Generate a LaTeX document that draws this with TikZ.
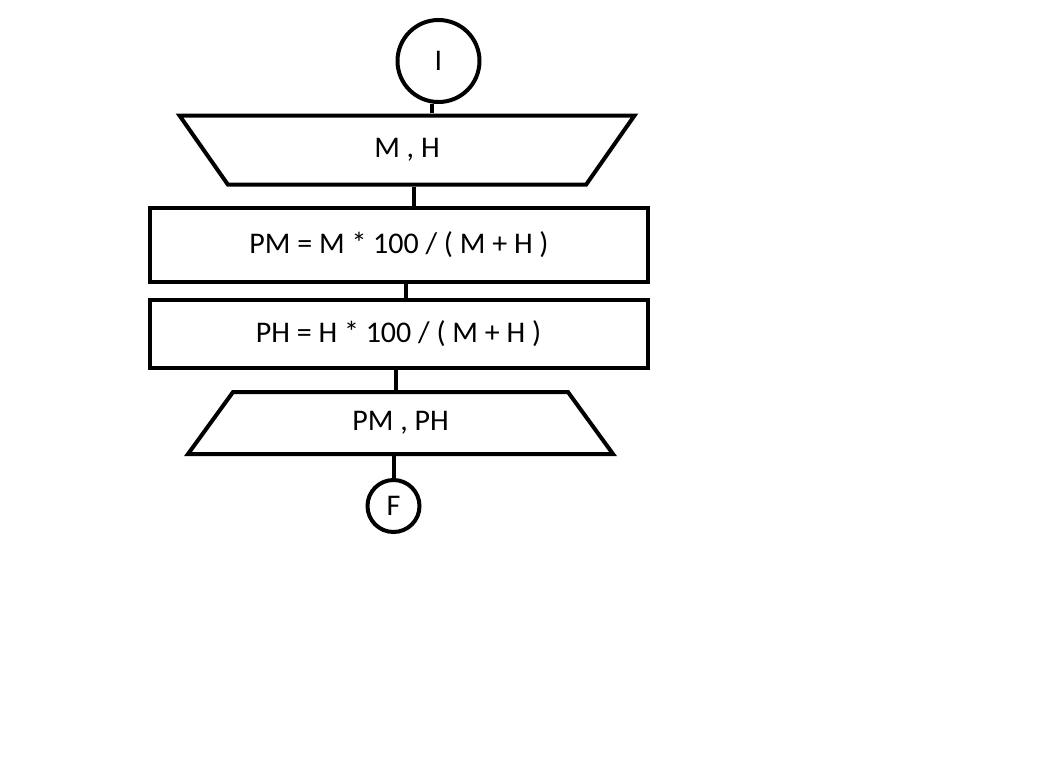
\documentclass[tikz,border=0pt]{standalone}
\usepackage{fontspec}
\setmainfont{Carlito}
\usetikzlibrary{shapes.geometric}
\begin{document}
\begin{tikzpicture}[
	x=1pt, y=-1pt,
	line width=4pt,
	font=\fontsize{30}{36}\selectfont,
	main/.style = {draw, circle, inner sep=0pt},
	io/.style = {draw, trapezium, trapezium stretches body=true, text height=20pt, text depth=6pt},
	proc/.style = {draw, rectangle, minimum width=498pt},
	]
	\useasboundingbox (0,0) rectangle (1052,774);
	\node[main, minimum size=82pt] (I) at (438.5,61) {I};
	\node[io, shape border rotate=180, trapezium left angle=55, trapezium right angle=55, minimum width=455pt, inner ysep=21.5pt] (in) at (407,150) {M , H};
	\node[proc, minimum height=74pt] (pm) at (399,245) {PM = M * 100 / ( M + H )};
	\node[proc, minimum height=68pt] (ph) at (398.5,334) {PH = H * 100 / ( M + H )};
	\node[io, trapezium left angle=54, trapezium right angle=54, minimum width=425pt, inner ysep=18pt] (out) at (400.5,423) {PM , PH};
	\node[main, minimum size=52pt] (F) at (393.5,506) {F};
	\draw ([xshift=-7pt]I.south) -- ([xshift=-7pt]I.south |- in.north);
	\draw ([xshift=7pt]in.south) -- ([xshift=7pt]in.south |- pm.north);
	\draw ([xshift=7pt]pm.south) -- ([xshift=7pt]pm.south |- ph.north);
	\draw ([xshift=-3pt]ph.south) -- ([xshift=-3pt]ph.south |- out.north);
	\draw (F.north |- out.south) -- (F.north);
\end{tikzpicture}
\end{document}
